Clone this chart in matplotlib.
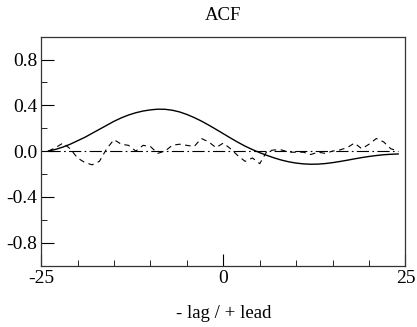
import numpy as np
import matplotlib.pyplot as plt
from matplotlib.ticker import MultipleLocator, FixedLocator

plt.rcParams['font.family'] = ['Liberation Serif', 'DejaVu Serif']
plt.rcParams['font.size'] = 14

# lags -24 .. 24
lags = list(range(-24, 25))

# smooth ACF (solid)
acf_solid = [0.00, 0.015, 0.035, 0.06, 0.09, 0.12, 0.155, 0.19, 0.225, 0.26,
             0.29, 0.315, 0.335, 0.35, 0.36, 0.366, 0.365, 0.357, 0.342, 0.32,
             0.293, 0.262, 0.227, 0.19, 0.152, 0.114, 0.077, 0.043, 0.013, -0.014,
             -0.038, -0.06, -0.079, -0.094, -0.105, -0.112, -0.115, -0.114, -0.109, -0.101,
             -0.091, -0.08, -0.068, -0.057, -0.047, -0.039, -0.032, -0.028, -0.025]

# noisy ACF (dashed)
acf_dashed = [0.00, 0.03, 0.07, 0.02, -0.06, -0.10, -0.12, -0.09, 0.02, 0.10,
              0.06, 0.05, 0.00, 0.05, 0.04, -0.02, 0.00, 0.05, 0.06, 0.05,
              0.04, 0.11, 0.08, 0.03, 0.07, 0.02, -0.04, -0.09, -0.06, -0.11,
              0.00, 0.01, 0.01, -0.01, -0.01, -0.01, -0.03, -0.01, -0.02, 0.00,
              0.01, 0.03, 0.07, 0.02, 0.06, 0.11, 0.08, 0.02, 0.00]

# reference line at zero (dash-dot)
acf_zero = [0.0] * len(lags)

fig = plt.figure(figsize=(4.17, 3.27), dpi=100)
ax = fig.add_axes([0.0985, 0.188, 0.8739, 0.700])

ax.plot(lags, acf_solid, color='black', lw=1.0)
ax.plot(lags, acf_dashed, color='black', lw=0.8, dashes=(5, 4))
ax.plot(lags, acf_zero, color='black', lw=0.8, dashes=(11, 3, 1.5, 3))

ax.set_xlim(-25, 25)
ax.set_ylim(-1, 1)

ax.xaxis.set_major_locator(FixedLocator([-25, 0, 25]))
ax.xaxis.set_minor_locator(MultipleLocator(5))
ax.set_xticklabels(['-25', '0', '25'])
ax.yaxis.set_major_locator(FixedLocator([-0.8, -0.4, 0.0, 0.4, 0.8]))
ax.yaxis.set_minor_locator(FixedLocator([-0.6, -0.2, 0.2, 0.6]))
ax.set_yticklabels(['-0.8', '-0.4', '0.0', '0.4', '0.8'])

ax.tick_params(which='both', direction='in', top=False, right=False)
ax.tick_params(axis='y', which='major', length=9, pad=2.5)
ax.tick_params(axis='y', which='minor', length=4.5)
ax.tick_params(axis='x', which='major', length=9, pad=3)
ax.tick_params(axis='x', which='minor', length=4.5)

for s in ax.spines.values():
    s.set_linewidth(0.9)
    s.set_color('#333333')

ax.set_title('ACF', fontsize=13.5, pad=12)
ax.set_xlabel('- lag / + lead', fontsize=13.5, labelpad=13)

fig.savefig('out.png', dpi=100)
